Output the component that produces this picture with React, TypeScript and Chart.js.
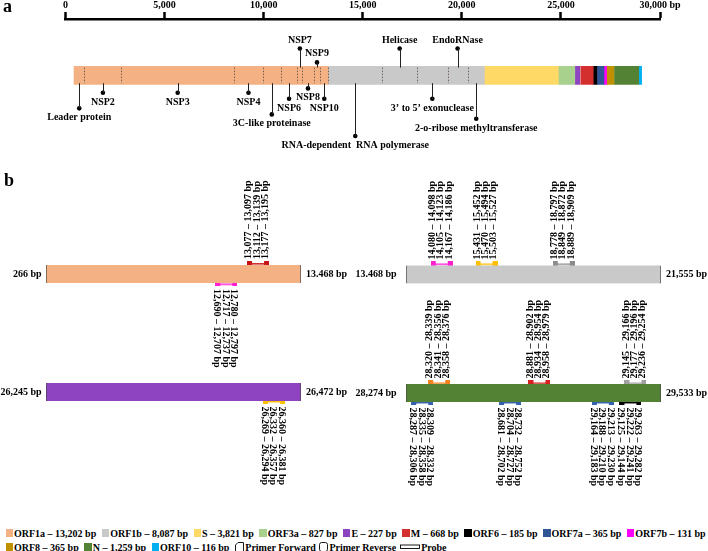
import React, { useEffect, useRef } from 'react';
import { Chart, registerables } from 'chart.js';

Chart.register(...registerables);

const SERIF = "'Liberation Serif', 'Times New Roman', 'DejaVu Serif', serif";
const fontStr = (size: number) => `bold ${size}px ${SERIF}`;

// ---------------- data: genome (panel a) ----------------
const geneNames = ['ORF1a', 'ORF1b', 'S', 'ORF3a', 'E', 'M', 'ORF6', 'ORF7a', 'ORF7b', 'ORF8', 'N', 'ORF10'];
const geneStarts = [266, 13468, 21563, 25393, 26245, 26523, 27202, 27394, 27756, 27894, 28274, 29558];
const geneEnds = [13468, 21555, 25384, 26220, 26472, 27191, 27387, 27759, 27887, 28259, 29533, 29674];
const geneLengths = [13202, 8087, 3821, 827, 227, 668, 185, 365, 131, 365, 1259, 116];
const geneColors = ['#F4B183', '#C9C9C9', '#FFD966', '#A9D18E', '#8E44C0', '#D32F2F', '#000000', '#2F5597', '#FF00FF', '#BF9000', '#548235', '#00B0F0'];

const axisTickValues = [0, 5000, 10000, 15000, 20000, 25000, 30000];
const axisTickLabels = ['0', '5,000', '10,000', '15,000', '20,000', '25,000', '30,000 bp'];

const domainNames = ['Leader protein', 'NSP2', 'NSP3', 'NSP4', '3C-like proteinase', 'NSP6', 'NSP7', 'NSP8', 'NSP9', 'NSP10',
  'RNA-dependent  RNA polymerase', 'Helicase', '3\u2019 to 5\u2019 exonuclease', 'EndoRNase', '2-o-ribose methyltransferase'];
const domainStarts = [266, 806, 2720, 8555, 10055, 10973, 11843, 12092, 12686, 13025, 13442, 16237, 18040, 19621, 20659];
const domainEnds = [805, 2719, 8554, 10054, 10972, 11842, 12091, 12685, 13024, 13441, 16236, 18039, 19620, 20658, 21552];

// layout of call-out pins: side (+1 above, -1 below) and stem length (px)
const pinSide = [-1, -1, -1, -1, -1, -1, 1, -1, 1, -1, -1, 1, -1, 1, -1];
const pinStem = [29, 11, 11, 11, 36, 18, 22, 6, 6, 18, 61, 22, 18, 22, 41];

// ---------------- data: primer / probe sets (panel b) ----------------
const assayGene = [0, 0, 1, 1, 1, 4, 10, 10, 10, 10, 10, 10, 10];
const assaySide = ['above', 'below', 'above', 'above', 'above', 'below', 'above', 'above', 'above', 'below', 'below', 'below', 'below'];
// where on each gene bar the figure draws the assay marker (bp)
const assayMarkerAt = [11242, 9601, 14603, 16021, 18472, 26448, 28438, 28933, 29407, 28354, 28788, 29246, 29382];
const assayRanges: number[][][] = [
  [[13077, 13097], [13112, 13139], [13177, 13195]],
  [[12690, 12707], [12717, 12737], [12780, 12797]],
  [[14080, 14098], [14105, 14123], [14167, 14186]],
  [[15431, 15452], [15470, 15494], [15503, 15527]],
  [[18778, 18797], [18849, 18872], [18889, 18909]],
  [[26269, 26294], [26332, 26357], [26360, 26381]],
  [[28320, 28339], [28341, 28356], [28358, 28376]],
  [[28881, 28902], [28934, 28954], [28958, 28979]],
  [[29145, 29166], [29177, 29196], [29236, 29254]],
  [[28287, 28306], [28335, 28358], [28309, 28332]],
  [[28681, 28702], [28704, 28727], [28732, 28752]],
  [[29164, 29183], [29188, 29210], [29213, 29230]],
  [[29125, 29144], [29222, 29241], [29263, 29282]],
];
const assayColors = ['#C81414', '#FF1ED2', '#FF1ED2', '#FFC000', '#8C8C8C', '#FFC000', '#F58220', '#D62020', '#A0A0A0', '#3461B0', '#3461B0', '#3461B0', '#000000'];

const panelEndLabels = [['266 bp', '13.468 bp'], ['13.468 bp', '21,555 bp'], ['26,245 bp', '26,472 bp'], ['28,274 bp', '29,533 bp']];

const BAR_HALF = 9;

function fmt(n: number): string {
  return String(n).replace(/\B(?=(\d{3})+(?!\d))/g, ',');
}
function rangeText(r: number[]): string {
  return `${fmt(r[0])} \u2013 ${fmt(r[1])} bp`;
}

function markerGlyph(color: string): HTMLCanvasElement {
  const c = document.createElement('canvas');
  c.width = 22;
  c.height = 5;
  const g = c.getContext('2d')!;
  g.fillStyle = color;
  g.fillRect(0, 0, 5, 5);
  g.fillRect(17, 0, 5, 5);
  g.fillRect(5, 2, 12, 1.5);
  return c;
}

// ---------------- panel a ----------------
function GenomeMap() {
  const ref = useRef<HTMLCanvasElement | null>(null);
  useEffect(() => {
    const canvas = ref.current;
    if (!canvas) return;
    const decor = {
      id: 'genomeDecor',
      afterDatasetsDraw(chart: any) {
        const ctx = chart.ctx;
        const xs = chart.scales.xg;
        const ys = chart.scales.y;
        const top = ys.getPixelForValue(BAR_HALF);
        const bottom = ys.getPixelForValue(-BAR_HALF);
        ctx.save();
        ctx.setLineDash([1.5, 1.5]);
        ctx.strokeStyle = '#5a4a40';
        ctx.lineWidth = 0.8;
        domainEnds.slice(0, -1).forEach((b) => {
          const x = Math.round(xs.getPixelForValue(b)) + 0.5;
          ctx.beginPath();
          ctx.moveTo(x, top);
          ctx.lineTo(x, bottom);
          ctx.stroke();
        });
        ctx.setLineDash([]);
        const pts = chart.getDatasetMeta(1).data;
        ctx.font = fontStr(10);
        ctx.fillStyle = '#000';
        ctx.textAlign = 'center';
        ctx.textBaseline = 'middle';
        pts.forEach((p: any, i: number) => {
          const edge = pinSide[i] > 0 ? top : bottom;
          const x = Math.round(p.x) + 0.5;
          ctx.strokeStyle = '#222';
          ctx.lineWidth = 1;
          ctx.beginPath();
          ctx.moveTo(x, edge);
          ctx.lineTo(x, p.y);
          ctx.stroke();
          ctx.fillText(domainNames[i], p.x, p.y + (pinSide[i] > 0 ? -8.5 : 9.5));
        });
        ctx.restore();
      },
    };
    const chart = new Chart(canvas, {
      type: 'scatter',
      data: {
        datasets: [
          {
            type: 'bar',
            indexAxis: 'y',
            xAxisID: 'xg',
            yAxisID: 'y',
            data: geneNames.map((_, i) => ({ y: 0, x: [geneStarts[i], geneEnds[i]] })),
            backgroundColor: geneColors,
            borderWidth: 0,
            barThickness: 18,
          },
          {
            type: 'scatter',
            xAxisID: 'xg',
            yAxisID: 'y',
            data: domainNames.map((_, i) => ({ x: (domainStarts[i] + domainEnds[i]) / 2, y: pinSide[i] * (BAR_HALF + pinStem[i]) })),
            pointRadius: 2.3,
            pointBackgroundColor: '#000',
            pointBorderWidth: 0,
          },
        ],
      },
      options: {
        animation: false,
        responsive: false,
        maintainAspectRatio: false,
        layout: { padding: { left: 65.5, right: 48, top: 0, bottom: 0 } },
        plugins: { legend: { display: false }, tooltip: { enabled: false } },
        scales: {
          x: {
            type: 'linear',
            axis: 'x',
            position: 'top',
            min: 0,
            max: 30000,
            offset: false,
            afterBuildTicks: (scale: any) => {
              scale.ticks = axisTickValues.map((v) => ({ value: v }));
            },
            ticks: {
              callback: (_v: any, i: number) => axisTickLabels[i],
              font: { family: SERIF, size: 10, weight: 'bold', lineHeight: 1.2 },
              color: '#000',
              padding: 1,
              autoSkip: false,
              maxRotation: 0,
              minRotation: 0,
            },
            grid: { display: true, drawOnChartArea: false, drawTicks: true, tickLength: 7, tickWidth: 2.5, tickColor: '#000', offset: false },
            border: { display: true, width: 2.5, color: '#000' },
          },
          xg: { type: 'linear', axis: 'x', display: false, min: -176, max: 30627, offset: false },
          y: { type: 'linear', axis: 'y', display: false, min: -106, max: 55 },
        },
      },
      plugins: [decor],
    } as any);
    return () => chart.destroy();
  }, []);
  return <canvas ref={ref} width={708} height={182} style={{ position: 'absolute', left: 0, top: -2, width: 708, height: 182 }} />;
}

// ---------------- panel b ----------------
type PanelProps = {
  idx: number;
  gene: number;
  left: number;
  top: number;
  width: number;
  height: number;
  barY: number;
  barLeft: number;
  barRight: number;
  leftGap: number;
};

function ProbePanel(props: PanelProps) {
  const { idx, gene, left, top, width, height, barY, barLeft, barRight, leftGap } = props;
  const ref = useRef<HTMLCanvasElement | null>(null);
  useEffect(() => {
    const canvas = ref.current;
    if (!canvas) return;
    const xMin = geneStarts[gene];
    const xMax = geneEnds[gene];
    const assays = assayGene.map((g, i) => (g === gene ? i : -1)).filter((i) => i >= 0);
    const endLabels = panelEndLabels[idx];
    const decor = {
      id: 'probeDecor',
      afterDatasetsDraw(chart: any) {
        const ctx = chart.ctx;
        const xs = chart.scales.x;
        const ys = chart.scales.y;
        ctx.save();
        ctx.font = fontStr(10);
        ctx.fillStyle = '#000';
        ctx.textBaseline = 'middle';
        const yc = ys.getPixelForValue(0);
        ctx.textAlign = 'right';
        ctx.fillText(endLabels[0], xs.getPixelForValue(xMin) - leftGap, yc + 0.5);
        ctx.textAlign = 'left';
        ctx.fillText(endLabels[1], xs.getPixelForValue(xMax) + 5, yc + 0.5);
        const pts = chart.getDatasetMeta(1).data;
        pts.forEach((p: any, k: number) => {
          const a = assays[k];
          const up = assaySide[a] === 'above';
          assayRanges[a].forEach((r, j) => {
            const cx = p.x - 1 + (j - 1) * 8.4;
            ctx.save();
            ctx.translate(cx, up ? p.y - 4.5 : p.y + 5);
            ctx.rotate(up ? -Math.PI / 2 : Math.PI / 2);
            ctx.textAlign = 'left';
            ctx.fillText(rangeText(r), 0, 0);
            ctx.restore();
          });
        });
        ctx.restore();
      },
    };
    const chart = new Chart(canvas, {
      type: 'scatter',
      data: {
        datasets: [
          {
            type: 'bar',
            indexAxis: 'y',
            xAxisID: 'x',
            yAxisID: 'y',
            data: [{ y: 0, x: [xMin, xMax] }],
            backgroundColor: geneColors[gene],
            borderColor: '#4a4a4a',
            borderWidth: { left: 1, right: 1, top: 0, bottom: 0 },
            borderSkipped: false,
            barThickness: 18,
          },
          {
            type: 'scatter',
            xAxisID: 'x',
            yAxisID: 'y',
            data: assays.map((a) => ({ x: assayMarkerAt[a], y: assaySide[a] === 'above' ? 13 : -12.5 })),
            pointStyle: assays.map((a) => markerGlyph(assayColors[a])),
            pointRadius: 3,
          },
        ],
      },
      options: {
        animation: false,
        responsive: false,
        maintainAspectRatio: false,
        layout: { padding: { left: barLeft - left, right: left + width - barRight, top: 0, bottom: 0 } },
        plugins: { legend: { display: false }, tooltip: { enabled: false } },
        scales: {
          x: { type: 'linear', axis: 'x', display: false, min: xMin, max: xMax, offset: false },
          y: { type: 'linear', axis: 'y', display: false, min: -(top + height - barY), max: barY - top },
        },
      },
      plugins: [decor],
    } as any);
    return () => chart.destroy();
  }, []);
  return <canvas ref={ref} width={width} height={height} style={{ position: 'absolute', left, top, width, height }} />;
}

// ---------------- legend ----------------
function Swatch({ color }: { color: string }) {
  return <span style={{ display: 'inline-block', width: 7.5, height: 7.5, background: color, marginRight: 1, flex: 'none' }} />;
}

function LegendItem({ i }: { i: number }) {
  return (
    <span style={{ display: 'flex', alignItems: 'center', marginRight: 5.5 }}>
      <Swatch color={geneColors[i]} />
      <span>{`${geneNames[i]} \u2013 ${fmt(geneLengths[i])} bp`}</span>
    </span>
  );
}

function Legend() {
  const rowStyle: React.CSSProperties = {
    position: 'absolute',
    left: 5.5,
    height: 14,
    display: 'flex',
    alignItems: 'center',
    whiteSpace: 'nowrap',
    font: `bold 10px ${SERIF}`,
    color: '#000',
  };
  return (
    <>
      <div style={{ ...rowStyle, top: 526 }}>
        {[0, 1, 2, 3, 4, 5, 6, 7, 8].map((i) => <LegendItem key={i} i={i} />)}
      </div>
      <div style={{ ...rowStyle, top: 540 }}>
        {[9, 10, 11].map((i) => <LegendItem key={i} i={i} />)}
        <span style={{ display: 'flex', alignItems: 'center', marginRight: 3 }}>
          <svg width="9" height="10" style={{ marginRight: 1.5 }}>
            <path d="M3 0.5 H8.5 V9.5 H0.5 V3 Z" fill="none" stroke="#000" strokeWidth="0.9" />
          </svg>
          <span>Primer Forward</span>
        </span>
        <span style={{ display: 'flex', alignItems: 'center', marginRight: 4 }}>
          <svg width="9" height="10" style={{ marginRight: 1.5 }}>
            <rect x="0.5" y="0.5" width="8" height="9" rx="2.2" fill="none" stroke="#000" strokeWidth="0.9" />
          </svg>
          <span>Primer Reverse</span>
        </span>
        <span style={{ display: 'flex', alignItems: 'center' }}>
          <svg width="20" height="6" style={{ marginRight: 1 }}>
            <rect x="0.5" y="1" width="19" height="3.5" fill="none" stroke="#000" strokeWidth="0.9" />
          </svg>
          <span>Probe</span>
        </span>
      </div>
    </>
  );
}

export default function App() {
  const letter: React.CSSProperties = { position: 'absolute', font: `bold 18px ${SERIF}`, lineHeight: '18px', color: '#000' };
  return (
    <div style={{ position: 'fixed', left: 0, top: 0, width: 708, height: 551, background: '#fff', overflow: 'hidden' }}>
      <GenomeMap />
      <ProbePanel idx={0} gene={0} left={0} top={140} width={354} height={240} barY={277.5} barLeft={46} barRight={301} leftGap={4.5} />
      <ProbePanel idx={1} gene={1} left={354} top={140} width={354} height={240} barY={278} barLeft={406} barRight={661} leftGap={9.5} />
      <ProbePanel idx={2} gene={4} left={0} top={285} width={354} height={215} barY={391.7} barLeft={46} barRight={301} leftGap={4.5} />
      <ProbePanel idx={3} gene={10} left={354} top={285} width={354} height={215} barY={393} barLeft={406} barRight={661} leftGap={9.5} />
      <div style={{ ...letter, left: 3, top: -3 }}>a</div>
      <div style={{ ...letter, left: 4, top: 171 }}>b</div>
      <Legend />
    </div>
  );
}
